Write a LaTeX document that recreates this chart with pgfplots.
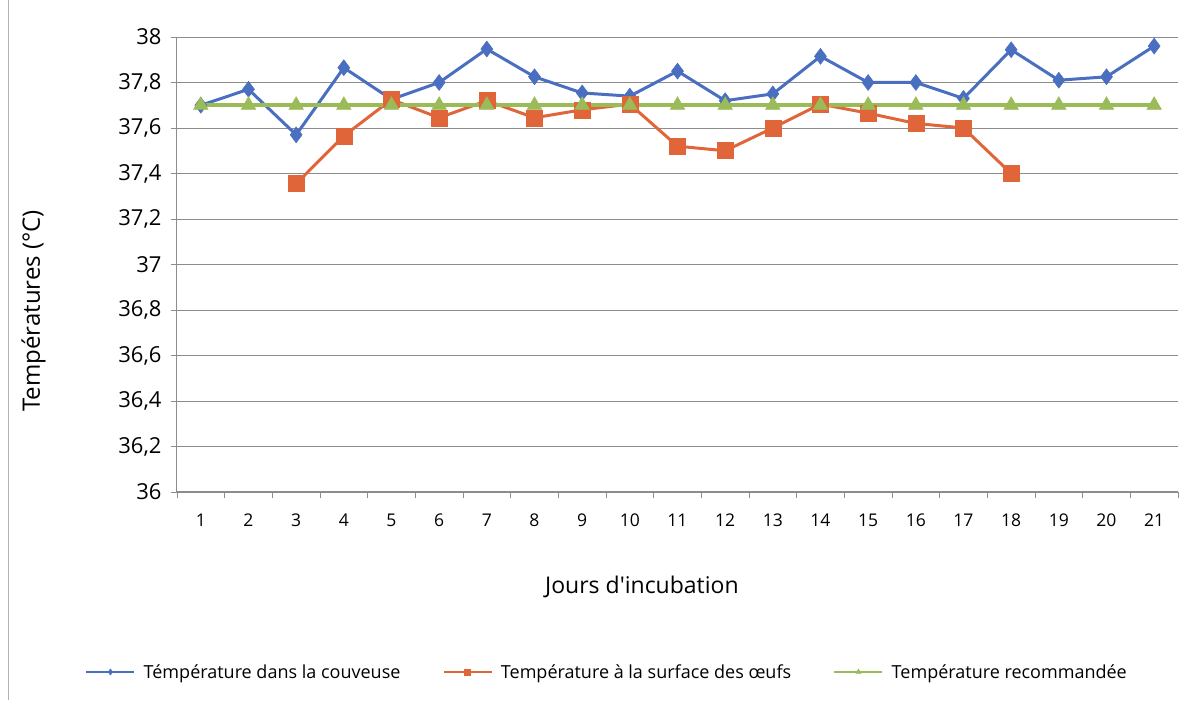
\documentclass[border=0pt]{standalone}
\usepackage{pgfplots}
\pgfplotsset{compat=1.18}
\usepackage{fontspec}
\setmainfont{Open Sans}
\definecolor{cblue}{HTML}{4A6FC0}
\definecolor{corange}{HTML}{E0663A}
\definecolor{cgreen}{HTML}{9BBB59}
\definecolor{cgrid}{HTML}{8C8C8C}
\begin{document}
\begin{tikzpicture}
\path[use as bounding box] (0pt,0pt) rectangle (1202pt,720pt);
\draw[gray!60, line width=1pt] (8pt,20pt) -- (8pt,720pt);
\begin{axis}[
  at={(177pt,228pt)}, anchor=south west,
  scale only axis, width=1001pt, height=455pt,
  xmin=0.5, xmax=21.5, ymin=36, ymax=38,
  xtick={1,...,21},
  minor xtick={0.5,1.5,...,21.5},
  ytick={36,36.2,...,38.01},
  axis x line*=bottom, axis y line*=left,
  axis line style={-, cgrid, line width=1pt},
  ymajorgrids, grid style={cgrid, line width=0.9pt},
  tick align=outside,
  major tick length=6pt, minor tick length=6pt,
  major x tick style={draw=none},
  minor x tick style={cgrid, line width=0.8pt},
  major y tick style={cgrid, line width=0.8pt},
  /pgf/number format/assume math mode=true,
  /pgf/number format/use comma,
  /pgf/number format/fixed,
  /pgf/number format/precision=1,
  yticklabel style={font=\fontsize{22}{25}\selectfont, xshift=-6pt},
  xticklabel style={font=\fontsize{17.5}{20}\selectfont, yshift=-12pt},
  ylabel={Températures (°C)},
  ylabel style={font=\fontsize{24}{27}\selectfont, at={(axis description cs:-0.1433,0.398)}, anchor=center},
  xlabel={Jours d\textquotesingle incubation},
  xlabel style={font=\fontsize{23}{26}\selectfont, at={(axis description cs:0.4645,-0.2088)}, anchor=center},
  legend style={at={(axis description cs:0.4326,-0.3956)}, anchor=center, draw=none, fill=none,
    legend columns=3, font=\fontsize{18}{21}\selectfont,
    nodes={inner xsep=8pt},
    /tikz/every even column/.append style={column sep=34pt}},
  legend image code/.code={
    \draw[#1, mark size=3pt, line width=2.5pt] (0pt,0pt) -- (48pt,0pt) plot coordinates {(24pt,0pt)};},
  clip=false,
]
\addplot[cblue, line width=3pt, mark=diamond*, mark size=8pt, mark options={fill=cblue, draw=cblue, line width=0.5pt}] coordinates {
(1,37.70) (2,37.77) (3,37.57) (4,37.865) (5,37.726) (6,37.80) (7,37.947)
(8,37.825) (9,37.754) (10,37.74) (11,37.85) (12,37.72) (13,37.75) (14,37.915)
(15,37.80) (16,37.80) (17,37.73) (18,37.944) (19,37.81) (20,37.825) (21,37.96)};
\addlegendentry{Témpérature dans la couveuse}
\addplot[corange, line width=3pt, mark=square*, mark size=8pt, mark options={fill=corange, draw=corange, line width=0.5pt}] coordinates {
(3,37.355) (4,37.565) (5,37.725) (6,37.645) (7,37.72) (8,37.645) (9,37.68)
(10,37.705) (11,37.52) (12,37.50) (13,37.60) (14,37.705) (15,37.665) (16,37.62)
(17,37.60) (18,37.40)};
\addlegendentry{Température à la surface des œufs}
\addplot[cgreen, line width=3.5pt, mark=triangle*, mark size=8.5pt, mark options={fill=cgreen, draw=cgreen, line width=0.5pt}] coordinates {
(1,37.70) (2,37.70) (3,37.70) (4,37.70) (5,37.70) (6,37.70) (7,37.70)
(8,37.70) (9,37.70) (10,37.70) (11,37.70) (12,37.70) (13,37.70) (14,37.70)
(15,37.70) (16,37.70) (17,37.70) (18,37.70) (19,37.70) (20,37.70) (21,37.70)};
\addlegendentry{Température recommandée}
\end{axis}
\end{tikzpicture}
\end{document}
